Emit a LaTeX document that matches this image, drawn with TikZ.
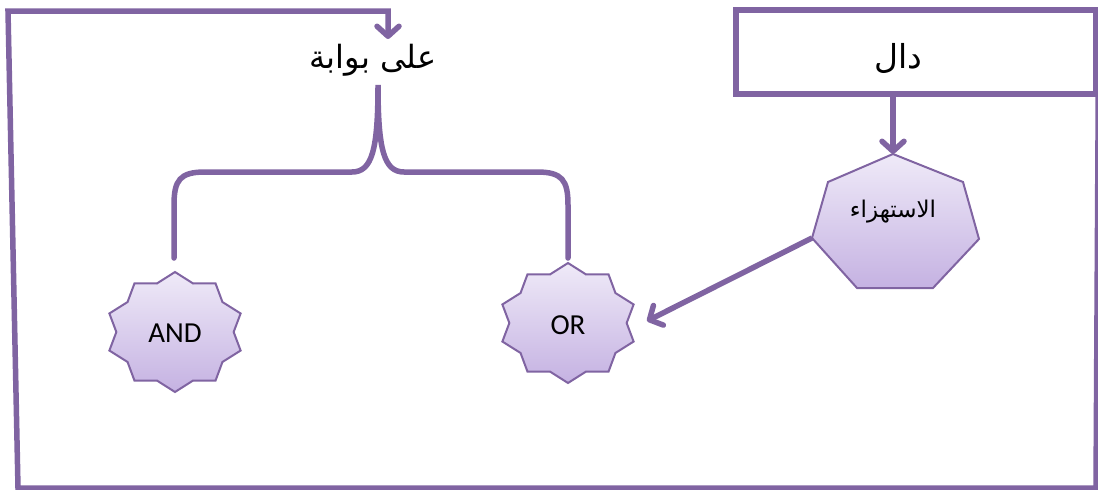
\documentclass[tikz,border=0pt]{standalone}
\usepackage{fontspec}
\setmainfont{Carlito}
\newfontfamily\arabicfont[Script=Arabic]{DejaVu Sans}
\TeXXeTstate=1
\usetikzlibrary{arrows.meta}
\definecolor{lav}{HTML}{8064A2}
\definecolor{gtop}{HTML}{EFEAF8}
\definecolor{gbot}{HTML}{C5B2E2}
\tikzset{
  conn/.style={draw=lav, line width=5.5pt},
  arr/.style={conn, -{Straight Barb[length=10pt,width=22pt,round]}},
  gate/.style={draw=lav, line width=2pt, line join=miter, top color=gtop, bottom color=gbot},
  gtext/.style={font=\fontsize{29}{33}\selectfont, inner sep=0pt},
  atext/.style={font=\arabicfont\fontsize{#1}{#1}\selectfont, inner sep=0pt},
}
\newcommand\gatestar[3]{%
  \path[gate] ({#2},{#3-60}) \foreach \ii [evaluate=\ii as \rr using {ifthenelse(mod(\ii,2)==0,60,51)}] in {1,...,19} { -- ({#2+1.15*\rr*sin(\ii*18)},{#3-\rr*cos(\ii*18)}) } -- cycle;
  \coordinate (#1) at (#2,#3);
}
\begin{document}
\begin{tikzpicture}[x=1pt,y=-1pt]
\useasboundingbox (0,0) rectangle (1098,490);

% box dal
\node[draw=lav, line width=5.5pt, minimum width=360pt, minimum height=84pt, inner sep=0pt,
      label={[atext=33, xshift=-18pt, yshift=-6pt]center:\beginR دال\endR}] (dal) at (916,52) {};

% title
\node[atext=32] (title) at (373,60) {\beginR على بوابة\endR};

% heptagon
\path[gate] (893,154) -- (963,182) -- (979,239) -- (933,288) -- (857,288) -- (812,238) -- (828,182) -- cycle;
\coordinate (hTop) at (893,154);
\coordinate (hL) at (812,238);
\node[atext=23] (hText) at (893,212) {\beginR الاستهزاء\endR};

% stars
\gatestar{andS}{175}{332}
\node[gtext] (and) at (175,333) {AND};
\gatestar{orS}{568}{323}
\node[gtext] (or) at (568,325) {OR};

% brace
\coordinate (bTip) at (378,85);
\coordinate (bL) at (174,258);
\coordinate (bR) at (568,258);
\draw[conn, line cap=round] (bL) -- (174,205) .. controls (174,180) and (180,172) .. (205,172) -- (352,172)
  .. controls (372,172) and (378,150) .. (bTip)
  .. controls (378,150) and (384,172) .. (404,172) -- (537,172)
  .. controls (562,172) and (568,180) .. (568,205) -- (bR);

% arrows
\draw[arr] (hTop |- dal.south) -- (hTop);
\coordinate (orIn) at (647,321);
\draw[arr] (hL) -- (orIn);

% outer connector
\coordinate (tTip) at (388,39);
\draw[arr, line join=miter] (dal.north east) -- (1096,488) -- (18,488) -- (8,11) -- (388,11) -- (tTip);
\end{tikzpicture}
\end{document}
